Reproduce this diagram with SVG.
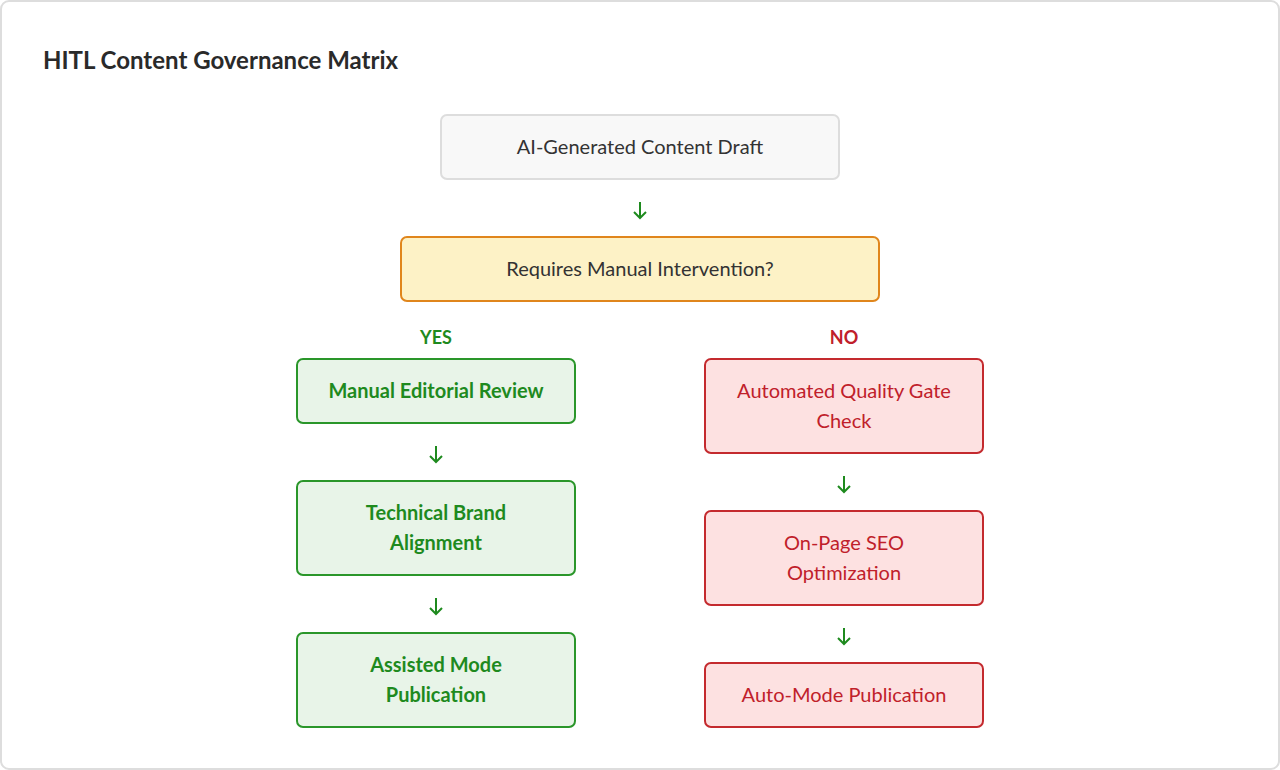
<svg xmlns="http://www.w3.org/2000/svg" width="1280" height="770" viewBox="0 0 1280 770">
<style>
text{font-family:"Source Sans Pro","Lato","Noto Sans",sans-serif;font-size:20px;text-anchor:middle}
.g rect{fill:#e8f4e8;stroke:#2a962a;stroke-width:2}
.g text{fill:#1e8a1e;font-weight:bold}
.r rect{fill:#fde1e1;stroke:#c42a2e;stroke-width:2}
.r text{fill:#c0202a}
.arr{fill:none;stroke:#1e8a1e;stroke-width:2}
</style>
<rect x="1" y="1" width="1278" height="768" rx="8" fill="#fff" stroke="#ddd" stroke-width="2"/>
<text x="43" y="69" style="text-anchor:start;font-size:24px;font-weight:bold;fill:#2a2a2a">HITL Content Governance Matrix</text>
<g id="draft"><rect x="441" y="115" width="398" height="64" rx="6" fill="#f8f8f8" stroke="#ddd" stroke-width="2"/><text x="640" y="154" fill="#333">AI-Generated Content Draft</text></g>
<g id="decision"><rect x="401" y="237" width="478" height="64" rx="6" fill="#fdf2c6" stroke="#e0861c" stroke-width="2"/><text x="640" y="276" fill="#333">Requires Manual Intervention?</text></g>
<g id="labels"><text x="436" y="344" style="fill:#1e8a1e;font-weight:bold;font-size:18px">YES</text><text x="844" y="344" style="fill:#c0202a;font-weight:bold;font-size:18px">NO</text></g>
<g id="connectors" class="arr">
<path d="M640 202V218M634 212L640 218L646 212"/>
<path d="M436 446V462M430 456L436 462L442 456"/>
<path d="M436 598V614M430 608L436 614L442 608"/>
<path d="M844 476V492M838 486L844 492L850 486"/>
<path d="M844 628V644M838 638L844 644L850 638"/>
</g>
<g id="manual" class="g"><rect x="297" y="359" width="278" height="64" rx="6"/><text x="436" y="398">Manual Editorial Review</text></g>
<g id="brand" class="g"><rect x="297" y="481" width="278" height="94" rx="6"/><text x="436" y="520">Technical Brand</text><text x="436" y="550">Alignment</text></g>
<g id="assisted" class="g"><rect x="297" y="633" width="278" height="94" rx="6"/><text x="436" y="672">Assisted Mode</text><text x="436" y="702">Publication</text></g>
<g id="gate" class="r"><rect x="705" y="359" width="278" height="94" rx="6"/><text x="844" y="398">Automated Quality Gate</text><text x="844" y="428">Check</text></g>
<g id="seo" class="r"><rect x="705" y="511" width="278" height="94" rx="6"/><text x="844" y="550">On-Page SEO</text><text x="844" y="580">Optimization</text></g>
<g id="auto" class="r"><rect x="705" y="663" width="278" height="64" rx="6"/><text x="844" y="702">Auto-Mode Publication</text></g>
</svg>
